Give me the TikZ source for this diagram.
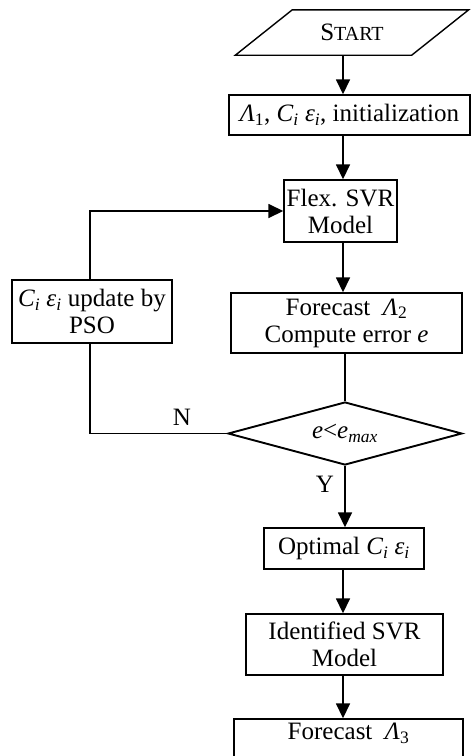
\documentclass[tikz,border=0pt]{standalone}
\usepackage{fontspec}
\setmainfont{Liberation Serif}
\usetikzlibrary{arrows.meta,shapes.geometric}
\newcommand\sbx[1]{\textsubscript{#1}}
\begin{document}
\begin{tikzpicture}[x=1pt,y=-1pt,
  txt/.style={font=\fontsize{25}{27}\selectfont, align=center, inner sep=0pt},
  box/.style={txt, draw, line width=1.4pt},
  conn/.style={line width=1.6pt},
  arr/.style={conn, -{Triangle[length=15pt,width=14pt]}},
  lbl/.style={txt}]
\useasboundingbox (0,0) rectangle (472,756);
\clip (0,0) rectangle (472,756);
% nodes
\node[txt, minimum width=176pt, minimum height=45pt] (start) at (352,32.5) {S{\fontsize{20}{22}\selectfont TART}};
\draw[line width=1.4pt] ([xshift=28.5pt]start.north west) -- ([xshift=28.5pt]start.north east) -- ([xshift=-28.5pt]start.south east) -- ([xshift=-28.5pt]start.south west) -- cycle;
\node[box, minimum width=241pt, minimum height=40pt] (init) at (349.5,115) {\textit{Λ}\sbx{1}, \textit{C\sbx{i} ε\sbx{i}}, initialization};
\node[box, minimum width=113pt, minimum height=62pt] (flex) at (340.5,211) {Flex. SVR\\Model};
\node[box, minimum width=231pt, minimum height=60pt] (fc2) at (346.5,323) {Forecast \ \textit{Λ}\sbx{2}\\Compute error \textit{e}};
\node[box, minimum width=160pt, minimum height=63pt] (pso) at (92,311.5) {\textit{C\sbx{i} ε\sbx{i}} update by\\PSO};
\node[draw, diamond, aspect=3.7, line width=1.9pt, inner sep=0pt, minimum width=234pt, minimum height=63pt, font=\fontsize{25}{27}\selectfont] (dec) at (345,433.5) {\textit{e}<\textit{e}\sbx{\textit{max}}};
\node[box, minimum width=160pt, minimum height=41pt] (opt) at (344,548.5) {Optimal \textit{C\sbx{i} ε\sbx{i}}};
\node[box, minimum width=197pt, minimum height=61pt] (ident) at (344.5,644.5) {Identified SVR\\Model};
\node[box, minimum width=229pt, minimum height=60pt] (fc3) at (348.5,749) {Forecast \ \textit{Λ}\sbx{3}\\\strut};
% axes
\coordinate (ax) at (343,0);
\coordinate (lx) at (90,0);
% connectors
\draw[arr] (ax |- start.south) -- (ax |- init.north);
\draw[arr] (ax |- init.south) -- (ax |- flex.north);
\draw[arr] (ax |- flex.south) -- (ax |- fc2.north);
\draw[conn] (dec.north |- fc2.south) -- (dec.north);
\draw[arr] (dec.south) -- (dec.south |- opt.north);
\draw[arr] (ax |- opt.south) -- (ax |- ident.north);
\draw[arr] (ax |- ident.south) -- (ax |- fc3.north);
\draw[arr] (lx |- pso.north) -- (lx |- flex.west) -- (flex.west);
\draw[conn] (dec.west) -- (lx |- dec.west) -- (lx |- pso.south);
% labels
\node[lbl] (nlab) at (182,417) {N};
\node[lbl] (ylab) at (325,484) {Y};
\end{tikzpicture}
\end{document}
